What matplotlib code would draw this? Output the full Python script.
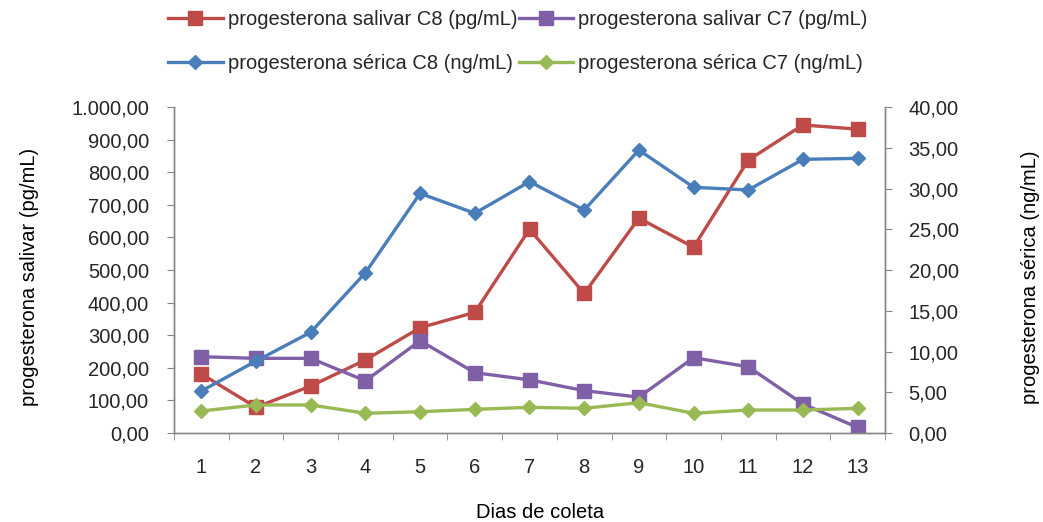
import matplotlib
matplotlib.use("Agg")
import matplotlib.pyplot as plt
from matplotlib.ticker import FuncFormatter, FixedLocator

plt.rcParams['font.family'] = ['Liberation Sans', 'DejaVu Sans']

dias = list(range(1, 14))
saliv_c8 = [181, 79, 144, 224, 323, 370, 625, 428, 659, 570, 837, 945, 932]
saliv_c7 = [234, 229, 229, 160, 283, 185, 163, 130, 110, 231, 203, 89, 17]
serica_c8 = [5.15, 8.83, 12.36, 19.67, 29.4, 26.96, 30.84, 27.36, 34.72, 30.15, 29.82, 33.58, 33.7]
serica_c7 = [2.7, 3.44, 3.44, 2.42, 2.61, 2.9, 3.15, 3.03, 3.72, 2.42, 2.82, 2.82, 3.03]

labels = ["progesterona salivar C8 (pg/mL)", "progesterona salivar C7 (pg/mL)",
          "progesterona sérica C8 (ng/mL)", "progesterona sérica C7 (ng/mL)"]

RED = "#BE4B48"
PURPLE = "#7F5FA6"
BLUE = "#4A7EBB"
GREEN = "#98B954"
AXC = "#868686"
TXT = "#262626"
FS = 14.5

def br(v, pos=None):
    s = f"{v:,.2f}"
    return s.replace(",", "X").replace(".", ",").replace("X", ".")

fig = plt.figure(figsize=(10.43, 5.22), dpi=100)
ax = fig.add_axes([174/1043, 1-433/522, (885-174)/1043, (433-107)/522])
ax2 = ax.twinx()

l1, = ax.plot(dias, saliv_c8, color=RED, lw=2.4, marker='s', ms=9.5, zorder=3)
l2, = ax.plot(dias, saliv_c7, color=PURPLE, lw=2.4, marker='s', ms=9.5, zorder=4)
l3, = ax2.plot(dias, serica_c8, color=BLUE, lw=2.4, marker='D', ms=7, zorder=3)
l4, = ax2.plot(dias, serica_c7, color=GREEN, lw=2.4, marker='D', ms=7, zorder=4)

ax.set_xlim(0.5, 13.5)
ax.set_ylim(0, 1000)
ax2.set_ylim(0, 40)
ax.set_yticks(range(0, 1001, 100))
ax2.set_yticks(range(0, 41, 5))
ax.yaxis.set_major_formatter(FuncFormatter(br))
ax2.yaxis.set_major_formatter(FuncFormatter(br))
ax.set_xticks(dias)
ax.xaxis.set_minor_locator(FixedLocator([i + 0.5 for i in range(0, 14)]))

for a in (ax, ax2):
    a.spines['top'].set_visible(False)
    for s in ('left', 'right', 'bottom'):
        a.spines[s].set_color(AXC)
        a.spines[s].set_linewidth(1.0)

ax.tick_params(axis='x', which='major', length=0, pad=18, labelsize=FS, colors=TXT)
ax.tick_params(axis='x', which='minor', length=5, color=AXC, direction='out')
ax.tick_params(axis='y', length=5, color=AXC, pad=13, labelsize=FS, labelcolor=TXT)
ax2.tick_params(axis='y', length=5, color=AXC, pad=12, labelsize=FS, labelcolor=TXT)

fig.text(30/1043, 1-277/522, "progesterona salivar (pg/mL)", rotation=90,
         ha='center', va='center', fontsize=FS, color='black')
fig.text(1031/1043, 1-277/522, "progesterona sérica (ng/mL)", rotation=90,
         ha='center', va='center', fontsize=FS, color='black')
fig.text(540/1043, 1-512/522, "Dias de coleta", ha='center', va='center',
         fontsize=FS, color='black')

leg = fig.legend([l1, l3, l2, l4], [labels[0], labels[2], labels[1], labels[3]],
                 ncol=2, loc='center', bbox_to_anchor=(518/1043, 1-41.5/522),
                 frameon=False, fontsize=FS, handlelength=2.7, handletextpad=0.25,
                 columnspacing=0.1, labelspacing=1.25, borderaxespad=0, borderpad=0)
for t in leg.get_texts():
    t.set_color(TXT)

fig.savefig("out.png", dpi=100)
